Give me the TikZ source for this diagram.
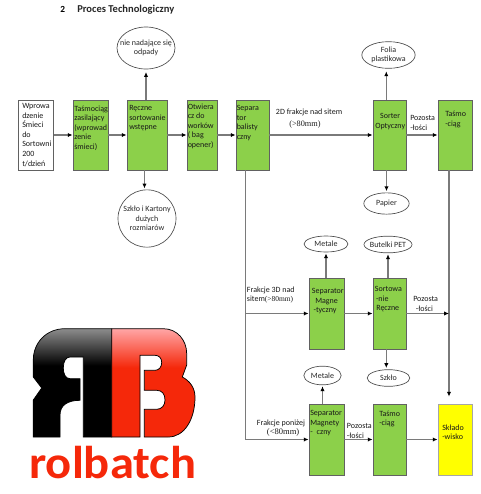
\documentclass[tikz,border=0pt]{standalone}
\usepackage{fontspec}
\setmainfont{Carlito}
\newfontfamily\lserif{Liberation Serif}
\usetikzlibrary{arrows.meta,shapes.geometric}

\definecolor{cGreen}{RGB}{140,208,74}
\definecolor{cYard}{RGB}{255,255,0}
\definecolor{cLogo}{RGB}{245,40,10}
\colorlet{cEdge}{black!62}
\colorlet{cFlow}{black!52}

\pgfdeclareverticalshading{logoblack}{100bp}{color(0bp)=(black); color(58bp)=(black); color(75bp)=(black!45); color(100bp)=(black!45)}
\pgfdeclareverticalshading{logored}{100bp}{color(0bp)=(cLogo); color(57bp)=(cLogo); color(75bp)=(red!35!white); color(100bp)=(red!35!white)}

\tikzset{
  procbox/.style={draw=cEdge, line width=0.65pt, fill=cGreen, inner sep=0pt},
  wastecirc/.style={draw=black!70, line width=0.5pt, ellipse, inner sep=-20pt, align=center,
    font=\fontsize{6}{7.2}\selectfont, text=black!85},
  boxtxt/.style={anchor=north west, inner sep=0pt, align=left,
    font=\fontsize{6}{7.2}\selectfont, text=black!90, execute at begin node=\strut},
  flow/.style={draw=cFlow, line width=0.8pt, -{Latex[black,length=3.6pt,width=3.2pt]}},
  logoline/.style={draw=black, line width=0.55pt}
}

\begin{document}
\begin{tikzpicture}[x=0.75pt,y=-0.75pt]
\useasboundingbox (0,0) rectangle (480,494);

%% ---------- heading ----------
\node[anchor=base west, inner sep=0pt, font=\bfseries\fontsize{7}{9}\selectfont] (numhead) at (60,12) {2};
\node[anchor=base west, inner sep=0pt, font=\bfseries\fontsize{7.9}{9}\selectfont, text=black!85] (head) at (77,12) {Proces Technologiczny};

%% ---------- process boxes: name/centre x/centre y/width/height ----------
\foreach \name/\cx/\cy/\w/\h in {tasa/90.5/135/35/70, recz/147/135/40/70, otw/202/135/30/70,
    sep/252.5/135/33/70, sorter/389.5/135/33/70, belta/455/135/34/70,
    maga/326.5/313.5/35/71, sorta/389.5/313.5/33/71,
    magb/326.5/439.5/35/71, beltb/389.5/439.5/33/71} {
  \node[procbox, minimum width=\w*0.75pt, minimum height=\h*0.75pt] (\name) at (\cx,\cy) {};
}
\node[procbox, fill=white, minimum width=26.25pt, minimum height=52.5pt] (wpr) at (36.2,135) {};
\node[procbox, fill=cYard, draw=black!35, minimum width=25.5pt, minimum height=53.25pt] (yard) at (455,439.5) {};

%% ---------- box texts ----------
\node[boxtxt] (wprtxt) at (22,103) {Wprowa\\dzenie\\Śmieci\\do\\Sortowni\\200\\t/dzień};
\node[boxtxt] (tasatxt) at (74,105.3) {Taśmociąg\\zasilający\\(wprowad\\zenie\\śmieci)};
\node[boxtxt] (recztxt) at (129,105) {Ręczne\\sortowanie\\wstępne};
\node[boxtxt] (otwtxt) at (187.5,103.3) {Otwiera\\cz do\\worków\\( bag\\opener)};
\node[boxtxt] (septxt) at (236.5,105) {Separa\\tor\\balisty\\czny};
\node[boxtxt, align=center] (sortertxt) at (375,113) {Sorter\\Optyczny};
\node[boxtxt] (beltatxt) at (445,111) {Taśmo\\-ciąg};
\node[boxtxt] (magatxt) at (311.7,288.3) {Separator\\\hspace*{2.5pt}Magne\\\hspace*{1.2pt}-tyczny};
\node[boxtxt] (sortatxt) at (374.7,286.3) {Sortowa\\\hspace*{0.8pt}-nie\\\hspace*{1pt}Ręczne};
\node[boxtxt] (magbtxt) at (310,410.3) {Separator\\Magnety\\-\hspace*{3pt}czny};
\node[boxtxt] (beltbtxt) at (379,410.3) {Taśmo\\-ciąg};
\node[boxtxt] (yardtxt) at (442,424.3) {Składo\\-wisko};

%% ---------- ellipses ----------
\node[wastecirc, minimum width=43.5pt, minimum height=31.5pt] (odpady) at (146,48) {nie nadające się\\odpady};
\node[wastecirc, minimum width=43.5pt, minimum height=43pt] (szklokart) at (147,218.5) {Szkło i Kartony\\dużych\\rozmiarów};
\node[wastecirc, minimum width=40pt, minimum height=20pt] (folia) at (388.5,55) {Folia\\plastikowa};
\node[wastecirc, minimum width=34pt, minimum height=16pt] (papier) at (386.5,203.5) {Papier};
\node[wastecirc, minimum width=33pt, minimum height=12pt] (metala) at (326,244) {Metale};
\node[wastecirc, minimum width=36pt, minimum height=12.5pt] (pet) at (388,244.5) {Butelki PET};
\node[wastecirc, minimum width=28pt, minimum height=14pt] (metalb) at (322.5,375.5) {Metale};
\node[wastecirc, minimum width=32pt, minimum height=12.5pt] (szklo) at (388.5,378) {Szkło};

%% ---------- main line ----------
\draw[flow] (wpr.east) -- (tasa.west);
\draw[flow] (tasa.east) -- (recz.west);
\draw[flow] (recz.east) -- (otw.west);
\draw[flow] (otw.east) -- (sep.west);
\draw[flow] (sep.east) -- (sorter.west);
\draw[flow] (sorter.east) -- (belta.west);
\draw[flow] (maga.east) -- (sorta.west);
\draw[flow] (magb.east) -- (beltb.west);
\draw[flow] (beltb.east) -- (yard.west);

%% ---------- trunks down the page ----------
\coordinate (trunk) at ([xshift=-5.1pt]sep.south);
\draw[flow] (trunk) |- (magb.west);
\draw[flow] (trunk |- maga.west) -- (maga.west);
\coordinate (drop) at ([xshift=-4.5pt]belta.south);
\coordinate (dropend) at ([yshift=5.2pt]drop |- yard.north);
\draw[flow] (drop) -- (dropend);
\draw[flow] (sorta.east) -- (sorta.east -| drop);

%% ---------- side outputs ----------
\draw[flow, shorten >=2pt] (odpady.south |- recz.north) -- (odpady.south);
\draw[flow, shorten >=0.8pt] ([xshift=-1.9pt]recz.south) -- ([xshift=-1.9pt]recz.south |- szklokart.north);
\draw[flow, shorten >=2pt] ([xshift=-2.4pt]sorter.north) -- ([xshift=-2.4pt]sorter.north |- folia.south);
\draw[flow, shorten >=1pt] (papier.north |- sorter.south) -- (papier.north);
\draw[flow, shorten >=0.8pt] (metala.south |- maga.north) -- (metala.south);
\draw[flow, shorten >=0.8pt] (pet.south |- sorta.north) -- (pet.south);
\draw[flow, shorten >=0.8pt] (metalb.south |- magb.north) -- (metalb.south);
\draw[flow, shorten >=1pt] ([xshift=-2.4pt]sorta.south) -- ([xshift=-2.4pt]sorta.south |- szklo.north);

%% ---------- line labels ----------
\node[boxtxt] (lbltwod) at (275.7,107.3) {2D frakcje nad sitem};
\node[boxtxt, font=\lserif\fontsize{6.2}{7.2}\selectfont] (lblover) at (289,119.3) {(>80mm)};
\node[boxtxt] (lblresta) at (410,115.3) {Pozosta\\-łości};
\node[boxtxt] (lblthreed) at (246.7,286.3) {Frakcje 3D nad\\sitem{\lserif\fontsize{5.6}{7.2}\selectfont(>80mm)}};
\node[boxtxt] (lblrestb) at (413,296.3) {Pozosta\\\hspace*{2pt}-łości};
\node[boxtxt] (lblunder) at (256.7,418.3) {Frakcje poniżej};
\node[boxtxt, font=\lserif\fontsize{6.4}{7.2}\selectfont] (lblless) at (266.7,427.3) {(<80mm)};
\node[boxtxt] (lblrestc) at (346.7,423.3) {Pozosta\\-łości};

%% ---------- logo ----------
\path[logoline, shading=logoblack, shading angle=0]
  (111.7,328.7) -- (65,328.7) .. controls (46,328.7) and (33.3,343) .. (33.3,360)
  -- (33.3,377) -- (41.7,388) -- (33.3,400) -- (33.3,437) -- (60,437) -- (60,415)
  .. controls (60,405) and (68,400.3) .. (80,400.3) -- (80,378.7) -- (70,378.7)
  .. controls (65,378.7) and (63.3,373) .. (63.3,368) .. controls (63.3,361) and (66,357) .. (70,357)
  -- (83.3,357) -- (83.3,437) -- (111.7,437) -- cycle;
\path[logoline, shading=logored, shading angle=0]
  (111.7,328.7) -- (163.3,328.7) .. controls (177,328.7) and (186.7,340) .. (186.7,353.7)
  -- (186.7,365) -- (182.3,377) .. controls (190,381) and (195,388) .. (195,397)
  .. controls (195,420) and (184,437) .. (168.3,437) -- (144.3,437) -- (144.3,409.3) -- (156.7,409.3)
  .. controls (162,409.3) and (165,405) .. (165,400) .. controls (165,394) and (162,390.3) .. (156.7,390.3)
  -- (144.3,390.3) -- (144.3,370.3) -- (155,370.3)
  .. controls (159,370.3) and (161.7,367) .. (161.7,362.5) .. controls (161.7,358) and (159,355.3) .. (155,355.3)
  -- (140,355.3) -- (140,437) -- (111.7,437) -- cycle;
\node[anchor=base west, inner sep=0pt, text=cLogo, xscale=1.055, font=\bfseries\fontsize{34.5}{36}\selectfont] (brand) at (29,478) {rolbatch};

\end{tikzpicture}
\end{document}
